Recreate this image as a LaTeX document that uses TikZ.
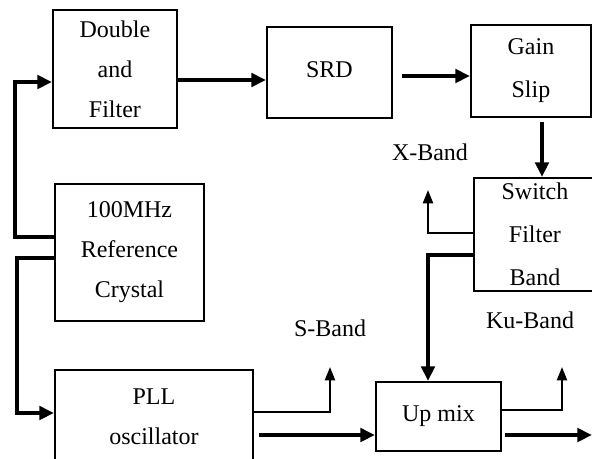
\documentclass[tikz,border=0pt]{standalone}
\usepackage{fontspec}
\setmainfont{Liberation Serif}
\usetikzlibrary{arrows.meta}
\tikzset{
  box/.style={draw, line width=1.4pt, inner sep=0pt, align=center, anchor=north west,
    font=\fontsize{18}{30}\selectfont},
  lbl/.style={font=\fontsize{18}{20}\selectfont, inner sep=0pt},
  thickar/.style={line width=3.3pt, -{Triangle[length=11pt,width=10pt]}},
  thinar/.style={line width=1.6pt, -{Triangle[length=10pt,width=7.5pt]}},
}
\begin{document}
\begin{tikzpicture}[x=0.75pt,y=-0.75pt]
\useasboundingbox (0,0) rectangle (592,458);
\clip (0,0) rectangle (592,458);
\fill[white] (0,0) rectangle (592,458);
% boxes
\node[box, minimum width=93pt, minimum height=88.5pt] (dbl) at (52,9) {Double\\and\\Filter};
\node[box, minimum width=93.75pt, minimum height=68.25pt] (srd) at (266,26) {\raisebox{4pt}{SRD}};
\node[box, minimum width=90pt, minimum height=69pt, font=\fontsize{18}{32}\selectfont] (gain) at (470,24) {Gain\\Slip};
\node[box, minimum width=91.5pt, minimum height=84.75pt, font=\fontsize{18}{32}\selectfont] (sw) at (473,177) {Switch\\Filter\\Band};
\node[box, minimum width=111.75pt, minimum height=102.75pt] (cry) at (54,183) {100MHz\\Reference\\Crystal};
\node[box, minimum width=148.5pt, minimum height=70.5pt] (pll) at (54,369) {PLL\\oscillator};
\node[box, minimum width=93.75pt, minimum height=51.75pt] (mix) at (375,381) {Up mix};
% labels
\node[lbl] (xb) at (430,152) {X-Band};
\node[lbl] (sb) at (330,328) {S-Band};
\node[lbl] (kb) at (530,320) {Ku-Band};
% free ends
\coordinate (xout) at (428,190);
\coordinate (sout) at (330,367);
\coordinate (kout) at (562,367);
\coordinate (mout) at (592,435);
% connectors
\draw[thickar] (cry.west|-0,237) -| (15,82) -- (dbl.west|-0,82);
\draw[thickar] (cry.west|-0,258) -| (17,413) -- (pll.west|-0,413);
\draw[thickar] (dbl.east|-0,80) -- (srd.west|-0,80);
\draw[thickar] ([xshift=7pt]srd.east|-0,76) -- (gain.west|-0,76);
\draw[thickar] (gain.south-|542,0) ++(0,4) -- (sw.north-|542,0);
\draw[thinar] (sw.west|-0,233) -| (xout);
\draw[thickar] (sw.west|-0,255) -| (mix.north-|428,0);
\draw[thinar] (pll.east|-0,412) -| (sout);
\draw[thickar] ([xshift=4pt]pll.east|-0,435) -- (mix.west|-0,435);
\draw[thinar] (mix.east|-0,410) -| (kout);
\draw[thickar] ([xshift=2pt]mix.east|-0,435) -- (mout);
\end{tikzpicture}
\end{document}
